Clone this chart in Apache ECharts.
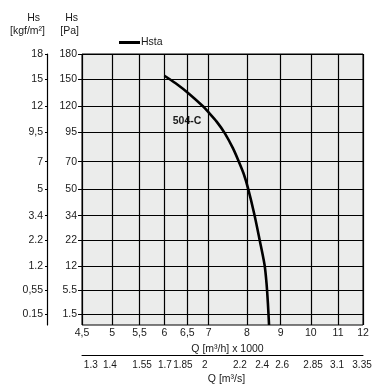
<!DOCTYPE html>
<html><head><meta charset="utf-8">
<script src="https://cdn.jsdelivr.net/npm/echarts@6/dist/echarts.min.js"></script>
<style>html,body{margin:0;padding:0;background:#fff}#c{width:391px;height:386px}</style>
</head><body><div id="c"></div>
<script>
// Flow axis (m3/h x 1000), log scale
var qTicks = [4.5, 5, 5.5, 6, 6.5, 7, 8, 9, 10, 11, 12];
var qLabels = ['4,5', '5', '5,5', '6', '6,5', '7', '8', '9', '10', '11', '12'];
// Secondary flow axis (m3/s): labels and where they stand on the m3/h scale
var qsLabels = ['1.3', '1.4', '1.55', '1.7', '1.85', '2', '2.2', '2.4', '2.6', '2.85', '3.1', '3.35'];
var qsAt = [4.64, 4.96, 5.55, 6.01, 6.40, 6.91, 7.81, 8.44, 9.05, 10.08, 10.96, 11.96];
// Pressure axes (square-root scale)
var paTicks = [1.5, 5.5, 12, 22, 34, 50, 70, 95, 120, 150, 180];
var paLabels = ['1.5', '5.5', '12', '22', '34', '50', '70', '95', '120', '150', '180'];
var kgfLabels = ['0.15', '0,55', '1.2', '2.2', '3.4', '5', '7', '9,5', '12', '15', '18'];
var paMin = 0.5;
// Curve Hsta (504-C)
var qCurve = [6.0, 6.24, 6.55, 6.87, 6.98, 7.20, 7.41, 7.62, 7.78, 7.91, 8.03, 8.21, 8.36, 8.51, 8.57, 8.61, 8.645];
var hsCurve = [153.7, 145, 133, 120, 115, 105, 94, 81, 70, 61, 51, 35, 22.5, 12.5, 7, 3, 0.5];

var sq = Math.sqrt;
function nearestIdx(arr, v) {
  var b = 0, d = Infinity;
  for (var i = 0; i < arr.length; i++) { var e = Math.abs(arr[i] - v); if (e < d) { d = e; b = i; } }
  return b;
}
var qLog = qTicks.map(Math.log), qsLog = qsAt.map(Math.log);
var sqTicks = paTicks.map(sq);
var curve = qCurve.map(function (q, i) { return [q, sq(hsCurve[i])]; });

var FONT = 'Liberation Sans, Arial, sans-serif';
var TXT = '#1a1a1a';
var chart = echarts.init(document.getElementById('c'), null, { renderer: 'canvas' });
chart.setOption({
  animation: false,
  backgroundColor: '#fff',
  textStyle: { fontFamily: FONT },
  legend: {
    left: 114, top: 32, itemWidth: 21, itemHeight: 3, itemGap: 4,
    textStyle: { fontFamily: FONT, fontSize: 10.5, color: TXT, padding: [0, 0, 0, -4] },
    data: [{ name: 'Hsta', icon: 'rect' }]
  },
  grid: [
    { left: 82, right: 28, top: 54, bottom: 61, show: true, backgroundColor: '#ebeceb', borderColor: '#000', borderWidth: 1 },
    { left: 82, right: 28, top: 354, height: 1, show: false }
  ],
  xAxis: [
    {
      type: 'log', gridIndex: 0, min: 4.5, max: 12, logBase: 10,
      axisLine: { show: false }, axisTick: { show: false, customValues: qTicks },
      splitLine: { show: true, lineStyle: { color: '#000', width: 1.2 } },
      axisLabel: {
        customValues: qTicks, margin: 3, fontSize: 10.5, color: TXT, fontFamily: FONT,
        formatter: function (v) { return qLabels[nearestIdx(qLog, Math.log(v))]; }
      },
      name: 'Q [m³/h] x 1000', nameLocation: 'middle', nameGap: 12,
      nameTextStyle: { fontSize: 10.5, color: TXT, fontFamily: FONT, padding: [0, 0, 0, 10] }
    },
    {
      type: 'log', gridIndex: 1, min: 4.5, max: 12, logBase: 10, position: 'bottom',
      axisLine: { show: true, lineStyle: { color: '#000', width: 1 } },
      axisTick: { show: false, customValues: qsAt }, splitLine: { show: false },
      axisLabel: {
        customValues: qsAt, margin: 5, fontSize: 10, color: TXT, fontFamily: FONT,
        formatter: function (v) { return qsLabels[nearestIdx(qsLog, Math.log(v))]; }
      },
      name: 'Q [m³/s]', nameLocation: 'middle', nameGap: 19,
      nameTextStyle: { fontSize: 10.5, color: TXT, fontFamily: FONT, padding: [0, 0, 0, 8] }
    }
  ],
  yAxis: [
    {
      type: 'value', gridIndex: 0, min: sq(paMin), max: sq(180), position: 'left',
      axisLine: { show: false },
      axisTick: { show: true, inside: false, length: 4, customValues: sqTicks, lineStyle: { color: '#000' } },
      splitLine: { show: true, lineStyle: { color: '#000', width: 1.2 } },
      axisLabel: {
        customValues: sqTicks, margin: 5, fontSize: 10.5, color: TXT, fontFamily: FONT,
        formatter: function (v) { return paLabels[nearestIdx(sqTicks, v)]; }
      }
    },
    {
      type: 'value', gridIndex: 0, min: sq(paMin), max: sq(180), position: 'left', offset: 35,
      axisLine: { show: true, lineStyle: { color: '#000', width: 1.2 } },
      axisTick: { show: true, inside: false, length: 2, customValues: sqTicks, lineStyle: { color: '#000' } },
      splitLine: { show: false },
      axisLabel: {
        customValues: sqTicks, margin: 4, fontSize: 10.5, color: TXT, fontFamily: FONT,
        formatter: function (v) { return kgfLabels[nearestIdx(sqTicks, v)]; }
      }
    },
    { type: 'value', gridIndex: 1, show: false, min: 0, max: 1 }
  ],
  series: [
    {
      name: 'Hsta', type: 'line', xAxisIndex: 0, yAxisIndex: 0,
      data: curve, smooth: 0.3, showSymbol: false, symbol: 'none', clip: true,
      lineStyle: { color: '#000', width: 2.6 }, itemStyle: { color: '#000' }
    }
  ],
  graphic: [
    { type: 'text', style: { text: 'Hs', x: 40, y: 18, align: 'right', verticalAlign: 'middle', font: '10.5px ' + FONT, fill: TXT } },
    { type: 'text', style: { text: '[kgf/m²]', x: 45, y: 31, align: 'right', verticalAlign: 'middle', font: '10.5px ' + FONT, fill: TXT } },
    { type: 'text', style: { text: 'Hs', x: 78, y: 18, align: 'right', verticalAlign: 'middle', font: '10.5px ' + FONT, fill: TXT } },
    { type: 'text', style: { text: '[Pa]', x: 79, y: 31, align: 'right', verticalAlign: 'middle', font: '10.5px ' + FONT, fill: TXT } },
    { type: 'text', style: { text: '504-C', x: 187, y: 121, align: 'center', verticalAlign: 'middle', font: 'bold 10.5px ' + FONT, fill: TXT } }
  ]
});
</script></body></html>
